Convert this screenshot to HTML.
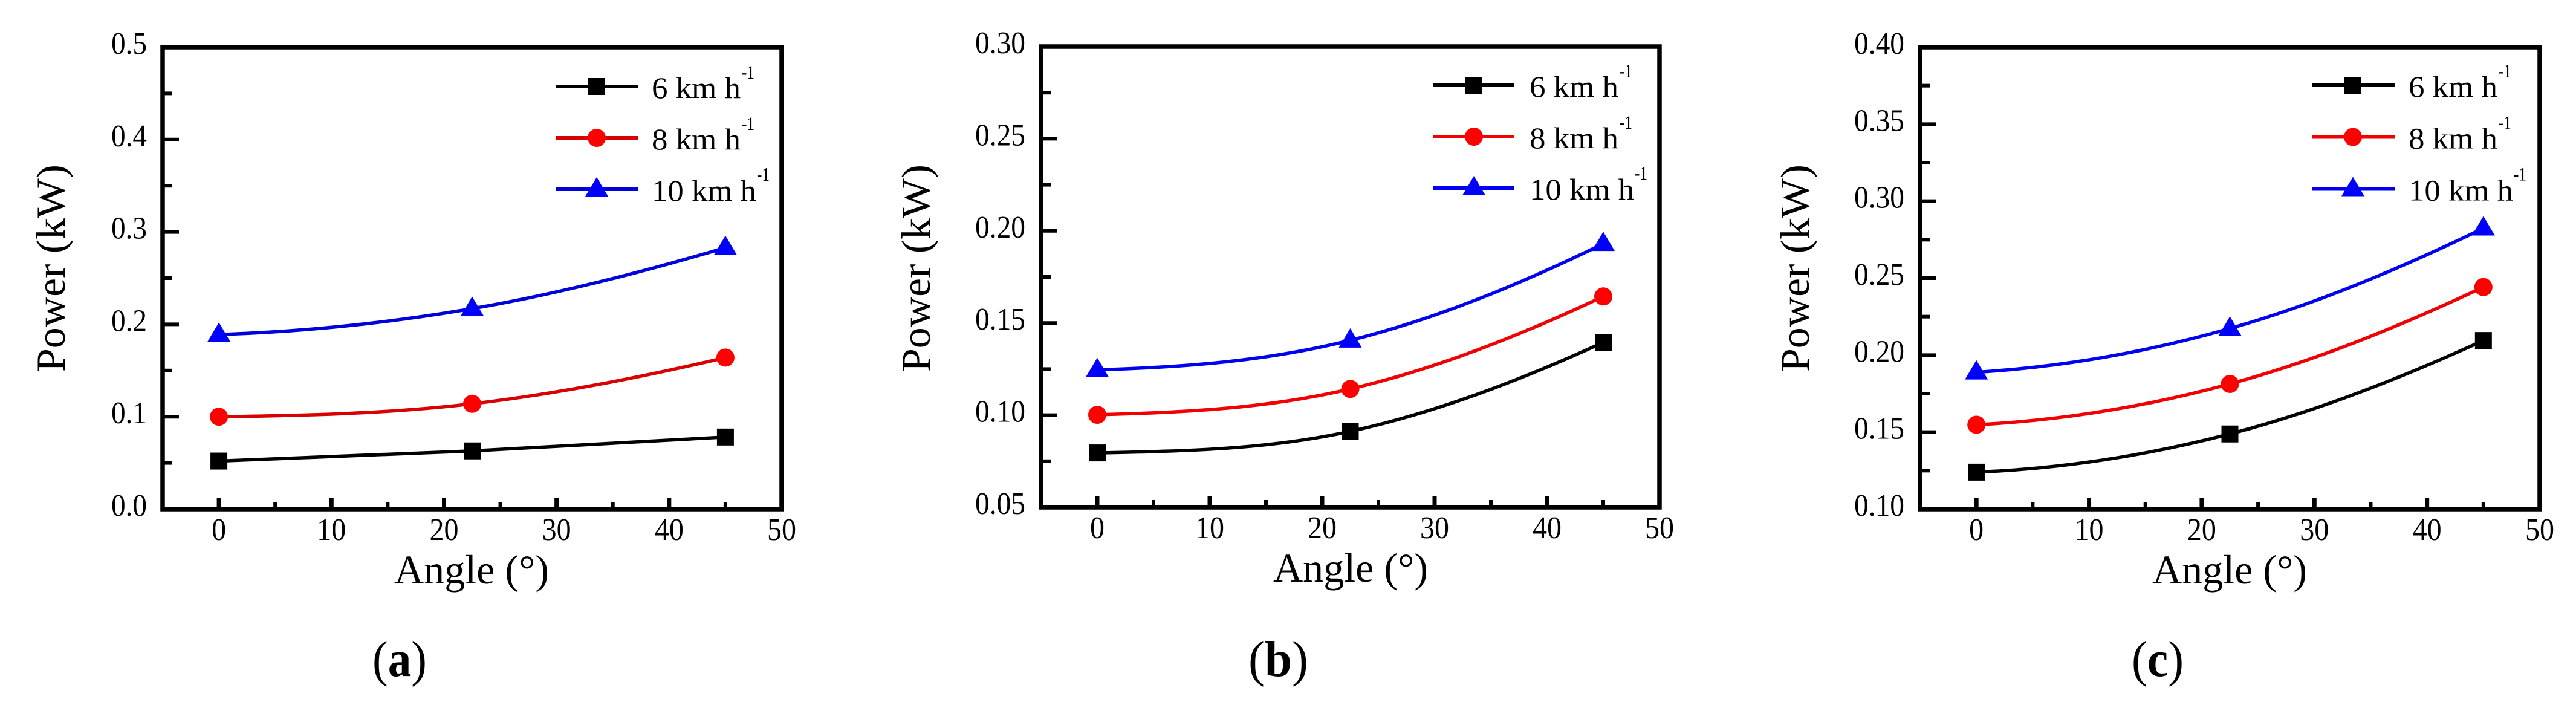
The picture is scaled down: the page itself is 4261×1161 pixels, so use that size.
<!DOCTYPE html>
<html lang="en">
<head>
<meta charset="utf-8">
<title>Power versus angle charts</title>
<style>
  html, body { margin: 0; padding: 0; background: #fff; }
  svg { display: block; }
  text { font-family: "Liberation Serif", serif; fill: #000; }
  .title { font-size: 68px; }
  .tick { font-size: 52px; }
  .leg { font-size: 50px; }
  .sup { font-size: 32px; }
  .cap { font-size: 84px; }
</style>
</head>
<body>
<svg id="figure" xmlns="http://www.w3.org/2000/svg" width="4261" height="1161" viewBox="0 0 4261 1161">
  <rect x="0" y="0" width="4261" height="1161" fill="#fff"/>

  <g id="panel-a">
    <text class="title" transform="translate(107 615) rotate(-90)" textLength="343" lengthAdjust="spacingAndGlyphs">Power (kW)</text>
    <text class="title" x="652" y="965" textLength="256" lengthAdjust="spacingAndGlyphs">Angle (°)</text>
    <text class="cap" x="616" y="1118" textLength="90" lengthAdjust="spacingAndGlyphs">(<tspan font-weight="bold">a</tspan>)</text>
    <g>
      <g>
        <line x1="919" x2="1055" y1="143" y2="143" stroke="#000" stroke-width="6"/>
        <rect x="973" y="129" width="28" height="28" fill="#000"/>
        <text class="leg" x="1078" y="162" textLength="147" lengthAdjust="spacingAndGlyphs">6 km h</text>
        <text class="sup" x="1227" y="130" textLength="21" lengthAdjust="spacingAndGlyphs">-1</text>
      </g>
      <g>
        <line x1="919" x2="1055" y1="228" y2="228" stroke="#d80000" stroke-width="6"/>
        <circle cx="987" cy="228" r="15" fill="#f00"/>
        <text class="leg" x="1078" y="247" textLength="147" lengthAdjust="spacingAndGlyphs">8 km h</text>
        <text class="sup" x="1227" y="215" textLength="21" lengthAdjust="spacingAndGlyphs">-1</text>
      </g>
      <g>
        <line x1="919" x2="1055" y1="313" y2="313" stroke="#0000d8" stroke-width="6"/>
        <polygon points="987,293 1006,325 968,325" fill="#00f"/>
        <text class="leg" x="1078" y="332" textLength="173" lengthAdjust="spacingAndGlyphs">10 km h</text>
        <text class="sup" x="1252" y="299" textLength="21" lengthAdjust="spacingAndGlyphs">-1</text>
      </g>
    </g>
  </g>

  <g id="panel-b">
    <text class="title" transform="translate(1538 615) rotate(-90)" textLength="343" lengthAdjust="spacingAndGlyphs">Power (kW)</text>
    <text class="title" x="2106" y="962" textLength="256" lengthAdjust="spacingAndGlyphs">Angle (°)</text>
    <text class="cap" x="2065" y="1118" textLength="99" lengthAdjust="spacingAndGlyphs">(<tspan font-weight="bold">b</tspan>)</text>
    <g>
      <g>
        <line x1="2370" x2="2505" y1="141" y2="141" stroke="#000" stroke-width="6"/>
        <rect x="2424" y="127" width="28" height="28" fill="#000"/>
        <text class="leg" x="2530" y="160" textLength="147" lengthAdjust="spacingAndGlyphs">6 km h</text>
        <text class="sup" x="2679" y="128" textLength="21" lengthAdjust="spacingAndGlyphs">-1</text>
      </g>
      <g>
        <line x1="2370" x2="2505" y1="226" y2="226" stroke="#f00000" stroke-width="6"/>
        <circle cx="2438" cy="226" r="15" fill="#f00"/>
        <text class="leg" x="2530" y="245" textLength="147" lengthAdjust="spacingAndGlyphs">8 km h</text>
        <text class="sup" x="2679" y="213" textLength="21" lengthAdjust="spacingAndGlyphs">-1</text>
      </g>
      <g>
        <line x1="2370" x2="2505" y1="311" y2="311" stroke="#0000f0" stroke-width="6"/>
        <polygon points="2438,291 2457,323 2419,323" fill="#00f"/>
        <text class="leg" x="2530" y="330" textLength="173" lengthAdjust="spacingAndGlyphs">10 km h</text>
        <text class="sup" x="2704" y="297" textLength="21" lengthAdjust="spacingAndGlyphs">-1</text>
      </g>
    </g>
  </g>

  <g id="panel-c">
    <text class="title" transform="translate(2992 615) rotate(-90)" textLength="343" lengthAdjust="spacingAndGlyphs">Power (kW)</text>
    <text class="title" x="3560" y="965" textLength="256" lengthAdjust="spacingAndGlyphs">Angle (°)</text>
    <text class="cap" x="3526" y="1118" textLength="86" lengthAdjust="spacingAndGlyphs">(<tspan font-weight="bold">c</tspan>)</text>
    <g>
      <g>
        <line x1="3825" x2="3961" y1="141" y2="141" stroke="#000" stroke-width="6"/>
        <rect x="3878" y="127" width="28" height="28" fill="#000"/>
        <text class="leg" x="3984" y="160" textLength="147" lengthAdjust="spacingAndGlyphs">6 km h</text>
        <text class="sup" x="4133" y="128" textLength="21" lengthAdjust="spacingAndGlyphs">-1</text>
      </g>
      <g>
        <line x1="3825" x2="3961" y1="226.5" y2="226.5" stroke="#f00000" stroke-width="6"/>
        <circle cx="3892" cy="226.5" r="15" fill="#f00"/>
        <text class="leg" x="3984" y="245.5" textLength="147" lengthAdjust="spacingAndGlyphs">8 km h</text>
        <text class="sup" x="4133" y="213.5" textLength="21" lengthAdjust="spacingAndGlyphs">-1</text>
      </g>
      <g>
        <line x1="3825" x2="3961" y1="312.5" y2="312.5" stroke="#0000f0" stroke-width="6"/>
        <polygon points="3892,292.5 3911,324.5 3873,324.5" fill="#00f"/>
        <text class="leg" x="3984" y="331.5" textLength="173" lengthAdjust="spacingAndGlyphs">10 km h</text>
        <text class="sup" x="4158" y="298.5" textLength="21" lengthAdjust="spacingAndGlyphs">-1</text>
      </g>
    </g>
  </g>
</svg>

<script>
// ---- chart data ----
const angles = [0, 22.5, 45];

const panelA6 = [0.052, 0.063, 0.078];
const panelA8 = [0.100, 0.114, 0.164];
const panelA10 = [0.189, 0.217, 0.283];

const panelB6 = [0.0795, 0.0912, 0.1395];
const panelB8 = [0.1002, 0.1142, 0.1644];
const panelB10 = [0.1246, 0.1406, 0.193];

const panelC6 = [0.124, 0.1488, 0.2095];
const panelC8 = [0.1548, 0.1813, 0.2442];
const panelC10 = [0.1889, 0.2173, 0.2824];

const xTickLabels = ["0", "10", "20", "30", "40", "50"];
const xMinorTicks = [5, 15, 25, 35, 45];

const panelAYLabels = ["0.0", "0.1", "0.2", "0.3", "0.4", "0.5"];
const panelAYMinor = [0.05, 0.15, 0.25, 0.35, 0.45];
const panelBYLabels = ["0.05", "0.10", "0.15", "0.20", "0.25", "0.30"];
const panelBYMinor = [0.075, 0.125, 0.175, 0.225, 0.275];
const panelCYLabels = ["0.10", "0.15", "0.20", "0.25", "0.30", "0.35", "0.40"];
const panelCYMinor = [0.125, 0.175, 0.225, 0.275, 0.325, 0.375];

// ---- plot geometry (separate from data) ----
const xDomain = [-5, 50];
const frameA = { id: "a", left: 269, right: 1293, top: 78, bottom: 842 };
const frameB = { id: "b", left: 1722, right: 2745, top: 77, bottom: 839 };
const frameC = { id: "c", left: 3176, right: 4201, top: 78, bottom: 842 };

const NS = "http://www.w3.org/2000/svg";

function make(parent, tag, attrs, name) {
  const el = document.createElementNS(NS, tag);
  for (const key in attrs) el.setAttribute(key, attrs[key]);
  
  
  parent.appendChild(el);
  return el;
}

function labelWidth(label) {
  let w = 0;
  for (const ch of label) w += ch === "." ? 11 : 24;
  return w;
}

function drawPanel(frame, yLabels, yMinor, seriesList) {
  const root = document.getElementById("panel-" + frame.id);
  const yMin = parseFloat(yLabels[0]);
  const yMax = parseFloat(yLabels[yLabels.length - 1]);
  const xScale = v => frame.left + (v - xDomain[0]) / (xDomain[1] - xDomain[0]) * (frame.right - frame.left);
  const yScale = v => frame.bottom - (v - yMin) / (yMax - yMin) * (frame.bottom - frame.top);

  const axes = make(root, "g", {}, "axes-" + frame.id);
  make(axes, "rect", {
    x: frame.left, y: frame.top,
    width: frame.right - frame.left, height: frame.bottom - frame.top,
    fill: "none", stroke: "#000", "stroke-width": 7.5
  }, "plot-frame-" + frame.id);

  xTickLabels.forEach(label => {
    const x = xScale(parseFloat(label));
    make(axes, "line", { x1: x, x2: x, y1: frame.bottom, y2: frame.bottom - 18, stroke: "#000", "stroke-width": 7 }, "x-major-tick");
    const t = make(axes, "text", {
      class: "tick", x: x, y: frame.bottom + 51, "text-anchor": "middle",
      textLength: labelWidth(label), lengthAdjust: "spacingAndGlyphs"
    }, "x-tick-label");
    t.textContent = label;
  });
  xMinorTicks.forEach(v => {
    const x = xScale(v);
    make(axes, "line", { x1: x, x2: x, y1: frame.bottom, y2: frame.bottom - 12, stroke: "#000", "stroke-width": 6 }, "x-minor-tick");
  });

  yLabels.forEach(label => {
    const y = yScale(parseFloat(label));
    make(axes, "line", { x1: frame.left, x2: frame.left + 27, y1: y, y2: y, stroke: "#000", "stroke-width": 6 }, "y-major-tick");
    const t = make(axes, "text", {
      class: "tick", x: frame.left - 26, y: y + 11, "text-anchor": "end",
      textLength: labelWidth(label), lengthAdjust: "spacingAndGlyphs"
    }, "y-tick-label");
    t.textContent = label;
  });
  yMinor.forEach(v => {
    const y = yScale(v);
    make(axes, "line", { x1: frame.left, x2: frame.left + 16, y1: y, y2: y, stroke: "#000", "stroke-width": 6 }, "y-minor-tick");
  });

  seriesList.forEach(series => {
    const values = series.values;
    const g = make(root, "g", {}, "series-" + series.name + "-" + frame.id);
    const s = [];
    for (let i = 0; i < values.length - 1; i++) s.push((values[i + 1] - values[i]) / (angles[i + 1] - angles[i]));
    const m = values.map((_, i) => {
      if (i === 0) return Math.max(s[0] * 0.25, 1.5 * s[0] - 0.5 * s[1]);
      if (i === values.length - 1) return 1.4 * s[i - 1] - 0.4 * s[i - 2];
      return (s[i - 1] + s[i]) / 2;
    });
    let d = "M" + xScale(angles[0]) + " " + yScale(values[0]);
    for (let i = 0; i < values.length - 1; i++) {
      const h = angles[i + 1] - angles[i];
      d += " C" + xScale(angles[i] + h / 3) + " " + yScale(values[i] + m[i] * h / 3) +
           " " + xScale(angles[i + 1] - h / 3) + " " + yScale(values[i + 1] - m[i + 1] * h / 3) +
           " " + xScale(angles[i + 1]) + " " + yScale(values[i + 1]);
    }
    make(g, "path", { d: d, fill: "none", stroke: series.line, "stroke-width": 5.5 }, "curve-" + series.name);

    values.forEach((v, i) => {
      const px = xScale(angles[i]);
      const py = yScale(v);
      if (series.marker === "square") {
        make(g, "rect", { x: px - 14, y: py - 14, width: 28, height: 28, fill: series.fill }, "point-square");
      } else if (series.marker === "circle") {
        make(g, "circle", { cx: px, cy: py, r: 15, fill: series.fill }, "point-circle");
      } else {
        make(g, "polygon", {
          points: px + "," + (py - 20) + " " + (px + 19) + "," + (py + 12) + " " + (px - 19) + "," + (py + 12),
          fill: series.fill
        }, "point-triangle");
      }
    });
  });
}

function seriesFor(v6, v8, v10, red, blue) {
  return [
    { name: "6-kmh", values: v6, line: "#000", fill: "#000", marker: "square" },
    { name: "8-kmh", values: v8, line: red, fill: "#f00", marker: "circle" },
    { name: "10-kmh", values: v10, line: blue, fill: "#00f", marker: "triangle" }
  ];
}

drawPanel(frameA, panelAYLabels, panelAYMinor, seriesFor(panelA6, panelA8, panelA10, "#d80000", "#0000d8"));
drawPanel(frameB, panelBYLabels, panelBYMinor, seriesFor(panelB6, panelB8, panelB10, "#f00000", "#0000f0"));
drawPanel(frameC, panelCYLabels, panelCYMinor, seriesFor(panelC6, panelC8, panelC10, "#f00000", "#0000f0"));
</script>
</body>
</html>
